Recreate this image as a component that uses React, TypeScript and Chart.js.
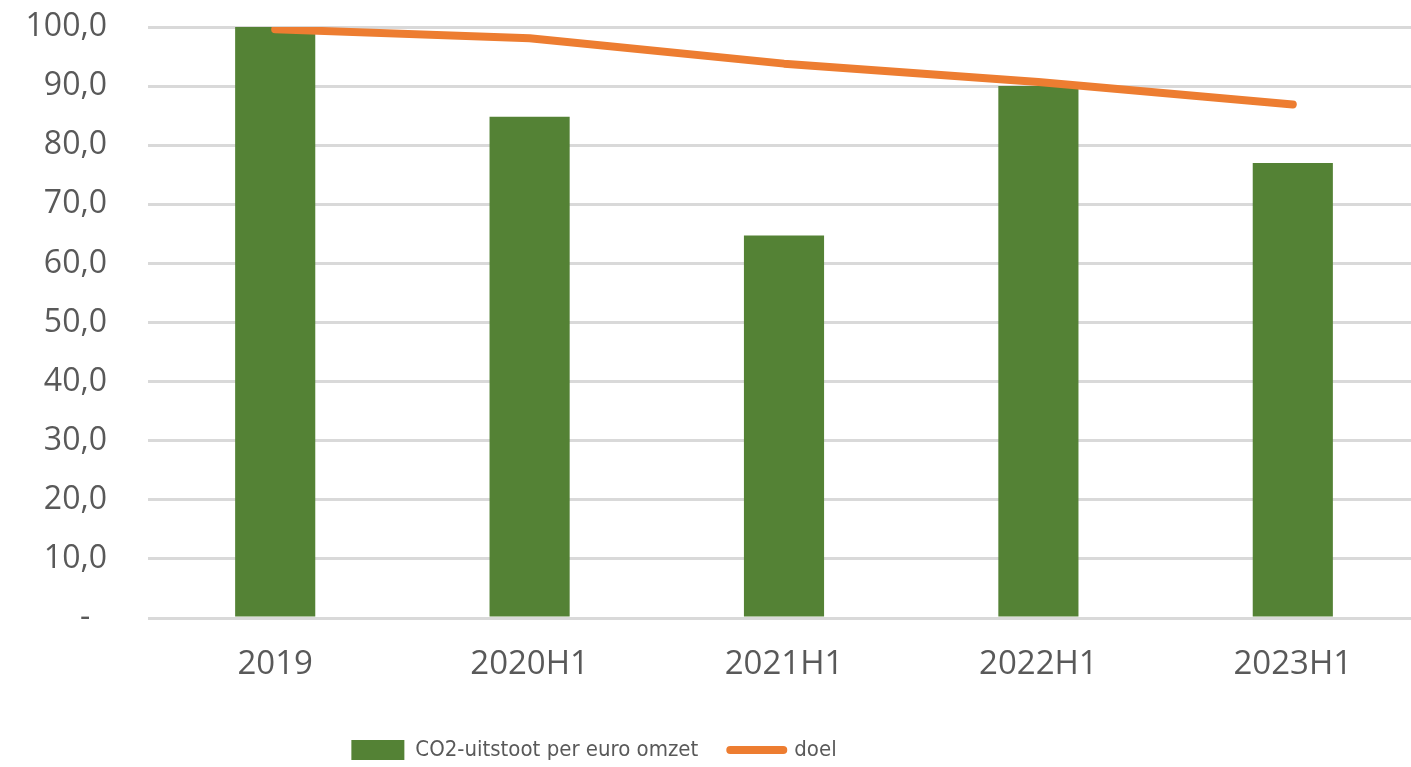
import React, { useEffect, useRef } from "react";
import { Chart, registerables } from "chart.js";

Chart.register(...registerables);

const categories = ["2019", "2020H1", "2021H1", "2022H1", "2023H1"];
const co2Values = [100.0, 84.8, 64.7, 90.0, 77.0];
const targetValues = [99.6, 98.1, 93.8, 90.7, 86.9];
const yTickValues = [0, 10, 20, 30, 40, 50, 60, 70, 80, 90, 100];
const barLabel = "CO2-uitstoot per euro omzet";
const lineLabel = "doel";

const GREEN = "#548235";
const ORANGE = "#ED7D31";
const TEXT = "#595959";
const GRID = "#D9D9D9";

const OFFSET_X = 232;
const CANVAS_W = 1652;
const CANVAS_H = 771;

export default function App() {
  const ref = useRef<HTMLCanvasElement | null>(null);

  useEffect(() => {
    if (!ref.current) return;
    const chart = new Chart(ref.current, {
      type: "bar",
      data: {
        labels: categories,
        datasets: [
          {
            type: "bar",
            label: barLabel,
            data: co2Values,
            backgroundColor: GREEN,
            borderWidth: 0,
            barPercentage: 0.315,
            categoryPercentage: 1,
            order: 1,
            pointStyle: "rect",
          } as any,
          {
            type: "line",
            label: lineLabel,
            data: targetValues,
            borderColor: ORANGE,
            backgroundColor: ORANGE,
            borderWidth: 8,
            borderCapStyle: "round",
            borderJoinStyle: "round",
            tension: 0,
            pointRadius: 0,
            pointHoverRadius: 0,
            pointStyle: "line",
            order: 0,
          } as any,
        ],
      },
      options: {
        responsive: false,
        animation: false,
        layout: { padding: { top: 27, right: 0, bottom: 0, left: 0 } },
        plugins: {
          tooltip: { enabled: false },
          legend: {
            position: "bottom",
            labels: {
              usePointStyle: true,
              pointStyleWidth: 53,
              boxHeight: 20,
              padding: 32,
              color: TEXT,
              font: { family: "'Liberation Sans Narrow', 'DejaVu Sans Condensed', sans-serif", size: 22 },
              sort: (a: any, b: any) => a.datasetIndex - b.datasetIndex,
              generateLabels: (c: any) => {
                const items = Chart.defaults.plugins.legend.labels.generateLabels(c);
                items.forEach((it: any) => {
                  if (it.datasetIndex === 1) {
                    it.lineWidth = 8;
                    it.lineCap = "round";
                    it.strokeStyle = ORANGE;
                    it.fillStyle = ORANGE;
                    it.pointStyle = "line";
                  } else {
                    it.lineWidth = 0;
                    it.fillStyle = GREEN;
                    it.strokeStyle = GREEN;
                    it.pointStyle = "rect";
                  }
                });
                return items;
              },
            },
          },
        },
        scales: {
          x: {
            grid: { display: false, drawTicks: false },
            border: { display: false },
            ticks: {
              color: TEXT,
              padding: 27,
              font: { family: "'Open Sans', sans-serif", size: 33 },
              maxRotation: 0,
            },
            afterFit: (s: any) => {
              s.height = 89;
            },
          },
          y: {
            min: 0,
            max: 100,
            afterBuildTicks: (s: any) => {
              s.ticks = yTickValues.map((v) => ({ value: v }));
            },
            grid: { color: GRID, lineWidth: 3, drawTicks: false },
            border: { display: false },
            ticks: {
              color: TEXT,
              padding: 41,
              font: { family: "'Open Sans', sans-serif", size: 32 },
              callback: (v: any) => (Number(v) === 0 ? "-  " : Number(v).toFixed(1).replace(".", ",")),
            },
            afterFit: (s: any) => {
              s.width = 148 + OFFSET_X;
              s.paddingTop = 0;
              s.paddingBottom = 0;
            },
          },
        },
      },
    } as any);
    return () => chart.destroy();
  }, []);

  return (
    <div
      style={{
        position: "absolute",
        left: 0,
        top: 0,
        width: 1411,
        height: 767,
        overflow: "hidden",
        background: "#fff",
      }}
    >
      <canvas
        ref={ref}
        width={CANVAS_W}
        height={CANVAS_H}
        style={{ position: "absolute", left: -OFFSET_X, top: 0, width: CANVAS_W, height: CANVAS_H }}
      />
    </div>
  );
}
